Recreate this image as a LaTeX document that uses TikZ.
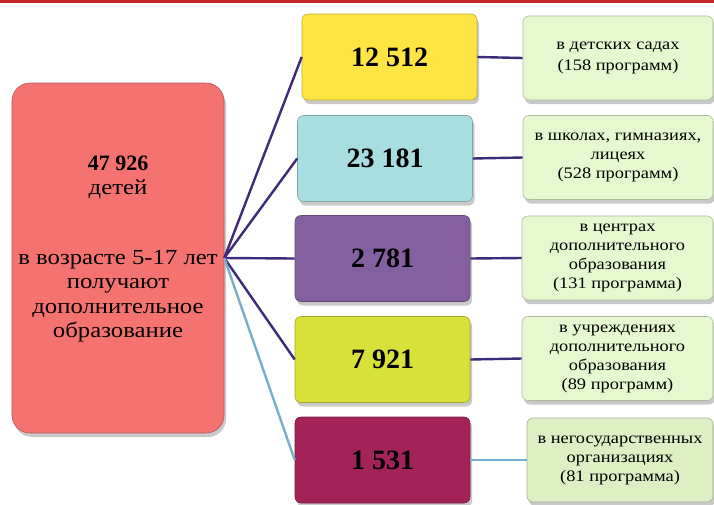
\documentclass[tikz,border=0pt]{standalone}
\usepackage{fontspec}
\setmainfont{Liberation Serif}
\newfontfamily\widefont{Liberation Serif}[FakeStretch=1.15]
\usetikzlibrary{shadows}
\definecolor{topred}{HTML}{C0282A}
\definecolor{cred}{HTML}{F47270}
\definecolor{cyel}{HTML}{FFE543}
\definecolor{ccyan}{HTML}{A8DDE2}
\definecolor{cpurp}{HTML}{8560A0}
\definecolor{clime}{HTML}{D8E03A}
\definecolor{cmar}{HTML}{A32358}
\definecolor{cgreen}{HTML}{E6F8CF}
\definecolor{cgreenb}{HTML}{DDEFC3}
\definecolor{cdark}{HTML}{3D2A78}
\definecolor{clight}{HTML}{78AFCC}
\tikzset{
  box/.style={rectangle, rounded corners=6pt, draw=#1!75!black, line width=0.6pt, fill=#1,
    drop shadow={shadow xshift=2pt, shadow yshift=-4pt, opacity=0.35, fill=black!60}},
  numbox/.style={box=#1, minimum width=175pt, minimum height=86pt, inner sep=0pt,
    font=\fontsize{28}{30}\selectfont\bfseries},
  infobox/.style={box=#1, minimum height=84pt, inner sep=0pt, align=center,
    font=\widefont\fontsize{16}{19}\selectfont},
  link/.style={line width=2.4pt, draw=cdark},
  linkb/.style={line width=2.4pt, draw=clight},
}
\begin{document}
\begin{tikzpicture}[x=1pt,y=-1pt]
\useasboundingbox (0,0) rectangle (714,504);
\fill[white] (0,0) rectangle (714,504);
\draw[topred, line width=3pt] (0,1) -- (714,1);
% left box
\node[box=cred, rounded corners=18pt, minimum width=212pt, minimum height=350pt] (L) at (118,258) {};
\node[align=center, font=\widefont\fontsize{21.5}{24.5}\selectfont] (Lt) at (118,249)
  {{\normalfont\fontsize{22}{24.5}\selectfont\bfseries 47 926}\\детей\\[45pt]в возрасте 5-17 лет\\получают\\дополнительное\\образование};
% middle boxes
\node[numbox=cyel]  (m1) at (389.5,57) {12 512};
\node[numbox=ccyan] (m2) at (385,158.5) {23 181};
\node[numbox=cpurp] (m3) at (382.5,258.5) {2 781};
\node[numbox=clime] (m4) at (382.5,359.5) {7 921};
\node[numbox=cmar]  (m5) at (382.5,460) {1 531};
% right boxes
\node[infobox=cgreen, minimum width=190pt, font=\widefont\fontsize{16}{21}\selectfont] (r1) at (618,58) {в детских садах\\(158 программ)};
\node[infobox=cgreen, minimum width=190pt] (r2) at (618,157.5) {в школах, гимназиях,\\лицеях\\(528 программ)};
\node[infobox=cgreen, minimum width=191pt] (r3) at (617.5,258) {в центрах\\дополнительного\\образования\\(131 программа)};
\node[infobox=cgreen, minimum width=191pt] (r4) at (617.5,358.5) {в учреждениях\\дополнительного\\образования\\(89 программ)};
\node[infobox=cgreenb, minimum width=186pt] (r5) at (620,460) {в негосударственных\\организациях\\(81 программа)};
% connectors
\draw[link] (L.east) -- (m1.west);
\draw[link] (L.east) -- (m2.west);
\draw[link] (L.east) -- (m3.west);
\draw[link] (L.east) -- (m4.west);
\draw[linkb] (L.east) -- (m5.west);
\draw[link] (m1.east) -- (r1.west);
\draw[link] (m2.east) -- (r2.west);
\draw[link] (m3.east) -- (r3.west);
\draw[link] (m4.east) -- (r4.west);
\draw[linkb] (m5.east) -- (r5.west);
\end{tikzpicture}
\end{document}
